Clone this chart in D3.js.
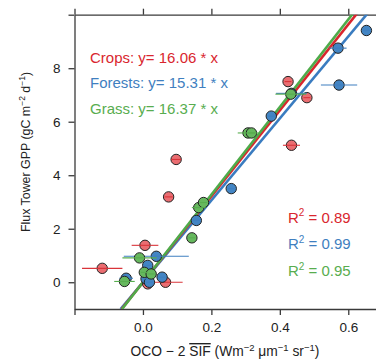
<!DOCTYPE html>
<html><head><meta charset="utf-8">
<script src="https://cdn.jsdelivr.net/npm/d3@7"></script>
<style>body{margin:0;background:#fff}svg{display:block;font-family:"Liberation Sans",Arial,sans-serif}</style>
</head><body><svg id="c" width="376" height="361"></svg>
<script>
// Data
const cropsX   = [0.424, 0.479, 0.434, 0.097, 0.075, 0.006, -0.119, 0.066, 0.014];
const cropsY   = [7.50, 6.90, 5.12, 4.59, 3.19, 1.38, 0.52, 0.00, -0.06];
const cropsErr = [0.01, 0.01, 0.025, 0.015, 0.012, 0.039, 0.059, 0.05, 0.01];

const forestX   = [0.653, 0.570, 0.573, 0.434, 0.375, 0.258, 0.156, 0.039, 0.014, -0.049, 0.009, 0.056, 0.019];
const forestY   = [9.41, 8.75, 7.37, 7.06, 6.21, 3.50, 2.31, 0.97, 0.63, 0.15, 0.13, 0.19, 0.00];
const forestErr = [0.01, 0.025, 0.053, 0.045, 0.01, 0.01, 0.01, 0.095, 0.01, 0.02, 0.01, 0.01, 0.01];

const grassX   = [0.432, 0.307, 0.317, 0.163, 0.177, 0.143, -0.010, 0.004, 0.024, -0.054];
const grassY   = [7.03, 5.58, 5.58, 2.79, 2.98, 1.66, 0.91, 0.37, 0.31, 0.03];
const grassErr = [0.045, 0.03, 0.01, 0.02, 0.01, 0.01, 0.05, 0.01, 0.01, 0.03];

const seriesNames = ["Forests", "Crops", "Grass"];
const slopes = {Crops: 16.06, Forests: 15.31, Grass: 16.37};
const r2 = {Crops: "0.89", Forests: "0.99", Grass: "0.95"};

const xTicks = [-0.2, 0, 0.2, 0.4, 0.6];
const yTicks = [0, 2, 4, 6, 8, 10];

const colors = {
  Crops:   {fill: "#ea6d71", line: "#d9262e", text: "#d9262e", err: "#d9343a"},
  Forests: {fill: "#4385c4", line: "#3a7cc0", text: "#3f7fc0", err: "#3f7fc0"},
  Grass:   {fill: "#66b85e", line: "#4eab4a", text: "#58ad4f", err: "#58ad4f"}
};

const series = {
  Crops:   cropsX.map((x,i)=>({x, y: cropsY[i], e: cropsErr[i]})),
  Forests: forestX.map((x,i)=>({x, y: forestY[i], e: forestErr[i]})),
  Grass:   grassX.map((x,i)=>({x, y: grassY[i], e: grassErr[i]}))
};

const svg = d3.select("#c");
const x = d3.scaleLinear().domain([-0.2, 0.7]).range([74.5, 382.5]);
const y = d3.scaleLinear().domain([-1, 10]).range([309, 14.7]);

const axColor = "#3a3a3a";
function styleAxis(g){
  g.selectAll(".domain").attr("stroke", axColor).attr("stroke-width", 1.3);
  g.selectAll(".tick line").attr("stroke", axColor).attr("stroke-width", 1.3);
  g.selectAll(".tick text").attr("fill", "#222").attr("font-size", 13.5)
    .attr("font-family", '"Liberation Sans",Arial,sans-serif');
}

svg.append("g").attr("transform", `translate(0,${y(-1)})`)
  .call(d3.axisBottom(x).tickValues(xTicks).tickSize(6).tickSizeOuter(0).tickPadding(7)
    .tickFormat(d => d < -0.1 ? "" : d3.format(".1f")(d)))
  .call(styleAxis);
svg.append("g").attr("transform", `translate(0,${y(10)})`)
  .call(d3.axisTop(x).tickValues(xTicks).tickSize(6).tickSizeOuter(0).tickFormat(""))
  .call(styleAxis);
svg.append("g").attr("transform", `translate(${x(-0.2)},0)`)
  .call(d3.axisLeft(y).tickValues(yTicks).tickSize(6).tickSizeOuter(0).tickPadding(8)
    .tickFormat(d => d === 10 ? "" : d))
  .call(styleAxis);

// clip
svg.append("clipPath").attr("id","clip").append("rect")
  .attr("x", x(-0.2)).attr("y", y(10)).attr("width", 400).attr("height", y(-1)-y(10));

// regression lines
const lg = svg.append("g").attr("clip-path","url(#clip)");
seriesNames.forEach(n => {
  const k = slopes[n];
  lg.append("line")
    .attr("x1", x(-1/k)).attr("y1", y(-1))
    .attr("x2", x(10.5/k)).attr("y2", y(10.5))
    .attr("stroke", colors[n].line).attr("stroke-width", 2.6);
});

// points with error bars
const pg = svg.append("g");
["Crops","Forests","Grass"].forEach(n => {
  const g = pg.append("g");
  g.selectAll("circle").data(series[n]).join("circle")
    .attr("cx", d => x(d.x)).attr("cy", d => y(d.y)).attr("r", 5.2)
    .attr("fill", colors[n].fill).attr("stroke", "#222").attr("stroke-width", 1);
  g.selectAll("line.err").data(series[n]).join("line").attr("class","err")
    .attr("x1", d => x(d.x - d.e)).attr("x2", d => x(d.x + d.e))
    .attr("y1", d => y(d.y)).attr("y2", d => y(d.y))
    .attr("stroke", colors[n].err).attr("stroke-width", 1.1);
});

// equation legend
const legNames = ["Crops","Forests","Grass"];
legNames.forEach((n,i) => {
  svg.append("text").attr("x", 90).attr("y", 62.5 + i*25.5)
    .attr("font-size", 15).attr("fill", colors[n].text)
    .text(`${n}: y= ${slopes[n].toFixed(2)} * x`);
});

// R² labels
legNames.forEach((n,i) => {
  const t = svg.append("text").attr("x", 288).attr("y", 222.5 + i*26.8)
    .attr("font-size", 15).attr("fill", colors[n].text);
  t.append("tspan").text("R");
  t.append("tspan").attr("dy", -6.5).attr("font-size", 10).text("2");
  t.append("tspan").attr("dy", 6.5).text(" = " + r2[n]);
});

// axis titles
const xl = svg.append("text").attr("x", 225).attr("y", 356).attr("text-anchor","middle")
  .attr("font-size", 13.8).attr("fill", "#222");
xl.append("tspan").text("OCO − 2 ");
xl.append("tspan").style("text-decoration","overline").text("SIF");
xl.append("tspan").text(" (Wm");
xl.append("tspan").attr("dy",-5).attr("font-size",9.5).text("−2");
xl.append("tspan").attr("dy",5).text(" μm");
xl.append("tspan").attr("dy",-5).attr("font-size",9.5).text("−1");
xl.append("tspan").attr("dy",5).text(" sr");
xl.append("tspan").attr("dy",-5).attr("font-size",9.5).text("−1");
xl.append("tspan").attr("dy",5).text(")");

const yl = svg.append("text").attr("transform","translate(30,152) rotate(-90)").attr("text-anchor","middle")
  .attr("font-size", 12.4).attr("fill", "#222");
yl.append("tspan").text("Flux Tower GPP (gC m");
yl.append("tspan").attr("dy",-5).attr("font-size",8.5).text("−2");
yl.append("tspan").attr("dy",5).text(" d");
yl.append("tspan").attr("dy",-5).attr("font-size",8.5).text("−1");
yl.append("tspan").attr("dy",5).text(")");
</script></body></html>
